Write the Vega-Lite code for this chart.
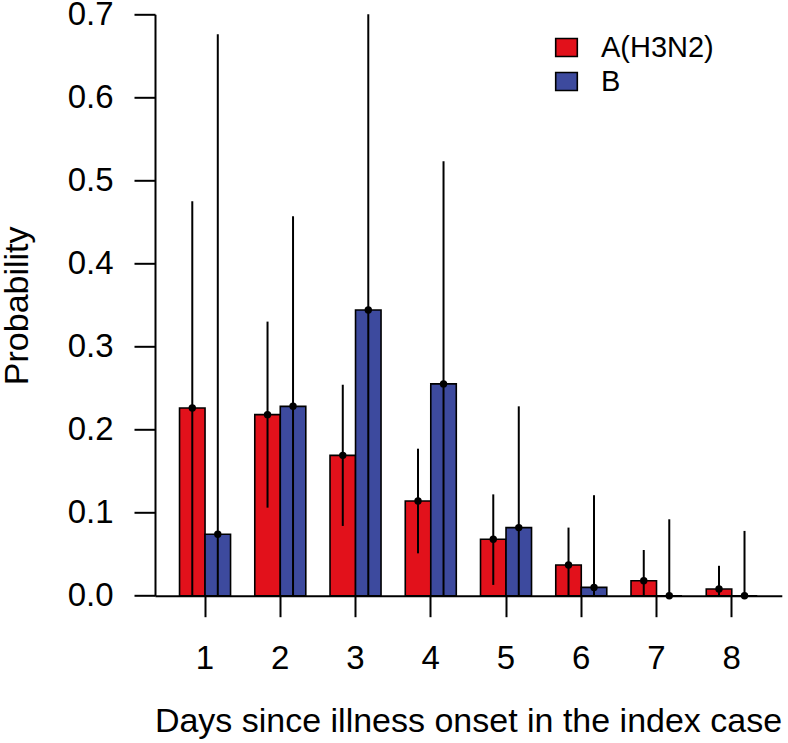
{
  "$schema": "https://vega.github.io/schema/vega-lite/v6.json",
  "autosize": "none",
  "padding": {"left": 155, "top": 14.3, "right": 6, "bottom": 147.3},
  "width": 626.8,
  "height": 581.4,
  "background": "white",
  "config": {
    "view": {"stroke": null},
    "font": "Liberation Sans"
  },
  "data": {
    "values": [
      {"day": 1, "type": "A(H3N2)", "p": 0.226, "lo": 0.0, "hi": 0.475},
      {"day": 1, "type": "B", "p": 0.074, "lo": 0.0, "hi": 0.676},
      {"day": 2, "type": "A(H3N2)", "p": 0.218, "lo": 0.106, "hi": 0.330},
      {"day": 2, "type": "B", "p": 0.228, "lo": 0.0, "hi": 0.457},
      {"day": 3, "type": "A(H3N2)", "p": 0.169, "lo": 0.084, "hi": 0.254},
      {"day": 3, "type": "B", "p": 0.344, "lo": 0.0, "hi": 0.700},
      {"day": 4, "type": "A(H3N2)", "p": 0.114, "lo": 0.051, "hi": 0.177},
      {"day": 4, "type": "B", "p": 0.255, "lo": 0.0, "hi": 0.523},
      {"day": 5, "type": "A(H3N2)", "p": 0.068, "lo": 0.013, "hi": 0.122},
      {"day": 5, "type": "B", "p": 0.082, "lo": 0.0, "hi": 0.228},
      {"day": 6, "type": "A(H3N2)", "p": 0.037, "lo": 0.0, "hi": 0.082},
      {"day": 6, "type": "B", "p": 0.010, "lo": 0.0, "hi": 0.121},
      {"day": 7, "type": "A(H3N2)", "p": 0.018, "lo": 0.0, "hi": 0.055},
      {"day": 7, "type": "B", "p": 0.0, "lo": 0.0, "hi": 0.092},
      {"day": 8, "type": "A(H3N2)", "p": 0.008, "lo": 0.0, "hi": 0.036},
      {"day": 8, "type": "B", "p": 0.0, "lo": 0.0, "hi": 0.078}
    ]
  },
  "encoding": {
    "x": {
      "field": "day",
      "type": "ordinal",
      "scale": {"paddingInner": 0.322, "paddingOuter": 0.326},
      "axis": {
        "title": "Days since illness onset in the index case",
        "labelAngle": 0,
        "labelFontSize": 33,
        "labelColor": "black",
        "labelBaseline": "alphabetic",
        "labelPadding": 52,
        "bandPosition": 0.5,
        "tickSize": 21,
        "tickWidth": 2,
        "tickColor": "black",
        "domainColor": "black",
        "domainWidth": 2,
        "titleFontSize": 34,
        "titleFontWeight": "normal",
        "titleColor": "black",
        "titleBaseline": "alphabetic",
        "titleY": 136,
        "titleX": 313
      }
    },
    "xOffset": {"field": "type", "type": "nominal", "scale": {"paddingInner": 0, "paddingOuter": 0}}
  },
  "layer": [
    {
      "mark": {"type": "bar", "stroke": "black", "strokeWidth": 1.6},
      "encoding": {
        "y": {
          "field": "p",
          "type": "quantitative",
          "scale": {"domain": [0, 0.7], "nice": false, "zero": true},
          "axis": {
            "title": "Probability",
            "values": [0, 0.1, 0.2, 0.3, 0.4, 0.5, 0.6, 0.7],
            "format": ".1f",
            "grid": false,
            "labelFontSize": 33,
            "labelColor": "black",
            "labelPadding": 21,
            "tickSize": 21,
            "tickWidth": 2,
            "tickColor": "black",
            "domainColor": "black",
            "domainWidth": 2,
            "titleFontSize": 34,
            "titleFontWeight": "normal",
            "titleColor": "black",
            "titleBaseline": "alphabetic",
            "titleX": -127,
            "titleY": 291
          }
        },
        "fill": {
          "field": "type",
          "type": "nominal",
          "scale": {"domain": ["A(H3N2)", "B"], "range": ["#E2111B", "#3D4A9E"]},
          "legend": {
            "title": null,
            "orient": "none",
            "legendX": 397,
            "legendY": 18.7,
            "padding": 0,
            "symbolType": "M-1.2,-1L1.2,-1L1.2,1L-1.2,1Z",
            "symbolSize": 324,
            "symbolStrokeColor": "black",
            "symbolStrokeWidth": 1.6,
            "symbolOpacity": 1,
            "labelFontSize": 29,
            "labelColor": "black",
            "labelOffset": 20,
            "rowPadding": 4
          }
        }
      }
    },
    {
      "mark": {"type": "rule", "color": "black", "strokeWidth": 2},
      "encoding": {
        "y": {"field": "lo", "type": "quantitative"},
        "y2": {"field": "hi"}
      }
    },
    {
      "mark": {"type": "point", "filled": true, "color": "black", "opacity": 1, "size": 55},
      "encoding": {
        "y": {"field": "p", "type": "quantitative"}
      }
    }
  ]
}
